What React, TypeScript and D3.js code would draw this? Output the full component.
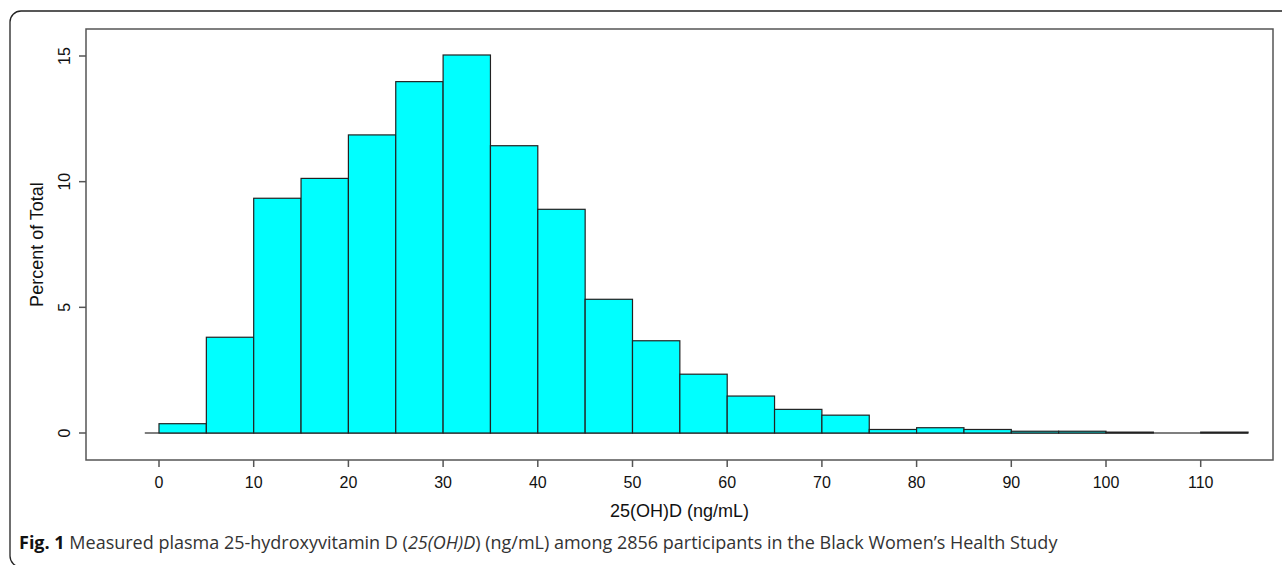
import React from "react";
import * as d3 from "d3";

const binStarts: number[] = [0, 5, 10, 15, 20, 25, 30, 35, 40, 45, 50, 55, 60, 65, 70, 75, 80, 85, 90, 95, 100, 105, 110];
const percents: number[] = [0.37, 3.81, 9.34, 10.13, 11.86, 13.98, 15.04, 11.43, 8.9, 5.32, 3.67, 2.34, 1.47, 0.94, 0.71, 0.14, 0.21, 0.14, 0.07, 0.07, 0.035, 0, 0.035];
const binWidth = 5;
const xTicks: number[] = [0, 10, 20, 30, 40, 50, 60, 70, 80, 90, 100, 110];
const yTicks: number[] = [0, 5, 10, 15];
const xTitle = "25(OH)D (ng/mL)";
const yTitle = "Percent of Total";

const W = 1282;
const H = 565;
const frame = { left: 86, right: 1273, top: 29, bottom: 460 };
const axisFont = "'Liberation Sans Narrow', 'Arial Narrow', 'Liberation Sans', Arial, sans-serif";

export default function App() {
  const x = d3.scaleLinear().domain([0, 110]).range([159, 1200.7]);
  const y = d3.scaleLinear().domain([0, 15]).range([433, 56]);
  const bars = binStarts.map((s, i) => ({ s, v: percents[i] }));
  return (
    <svg width={W} height={H} style={{ position: "absolute", left: 0, top: 0 }}>
      <rect x={0} y={0} width={W} height={H} fill="#fff" />
      <rect x={10} y={11} width={1300} height={556} rx={11} ry={11} fill="none" stroke="#222" strokeWidth={1.3} />
      <rect x={frame.left} y={frame.top} width={frame.right - frame.left} height={frame.bottom - frame.top} fill="none" stroke="#555" strokeWidth={1.5} />
      <line x1={x(-1.5)} x2={x(115)} y1={y(0)} y2={y(0)} stroke="#555" strokeWidth={1.5} />
      {bars.map((b, i) =>
        b.v > 0 ? (
          <rect
            key={i}
            x={x(b.s)}
            y={y(b.v)}
            width={x(b.s + binWidth) - x(b.s)}
            height={y(0) - y(b.v)}
            fill="#00FFFF"
            stroke="#222"
            strokeWidth={1.2}
          />
        ) : null
      )}
      {yTicks.map((t) => (
        <g key={"y" + t}>
          <line x1={79} x2={frame.left} y1={y(t)} y2={y(t)} stroke="#555" strokeWidth={1.5} />
          <text
            transform={`translate(70,${y(t)}) rotate(-90)`}
            textAnchor="middle"
            fontFamily={axisFont}
            fontSize={16}
            fill="#111"
          >
            {t}
          </text>
        </g>
      ))}
      {xTicks.map((t) => (
        <g key={"x" + t}>
          <line x1={x(t)} x2={x(t)} y1={frame.bottom} y2={467} stroke="#555" strokeWidth={1.5} />
          <text x={x(t)} y={488} textAnchor="middle" fontFamily={axisFont} fontSize={16} fill="#111">
            {t}
          </text>
        </g>
      ))}
      <text x={(frame.left + frame.right) / 2} y={517} textAnchor="middle" fontFamily={axisFont} fontSize={18} fill="#111">
        {xTitle}
      </text>
      <text
        transform={`translate(43,${(frame.top + frame.bottom) / 2}) rotate(-90)`}
        textAnchor="middle"
        fontFamily={axisFont}
        fontSize={18}
        fill="#111"
      >
        {yTitle}
      </text>
      <text x={19} y={549} fontFamily="'Open Sans', 'Noto Sans', sans-serif" fontSize={18} fill="#333">
        <tspan fontWeight="bold" fill="#111">Fig. 1</tspan>
        <tspan> Measured plasma 25-hydroxyvitamin D (</tspan>
        <tspan fontStyle="italic">25(OH)D</tspan>
        <tspan>) (ng/mL) among 2856 participants in the Black Women’s Health Study</tspan>
      </text>
    </svg>
  );
}
